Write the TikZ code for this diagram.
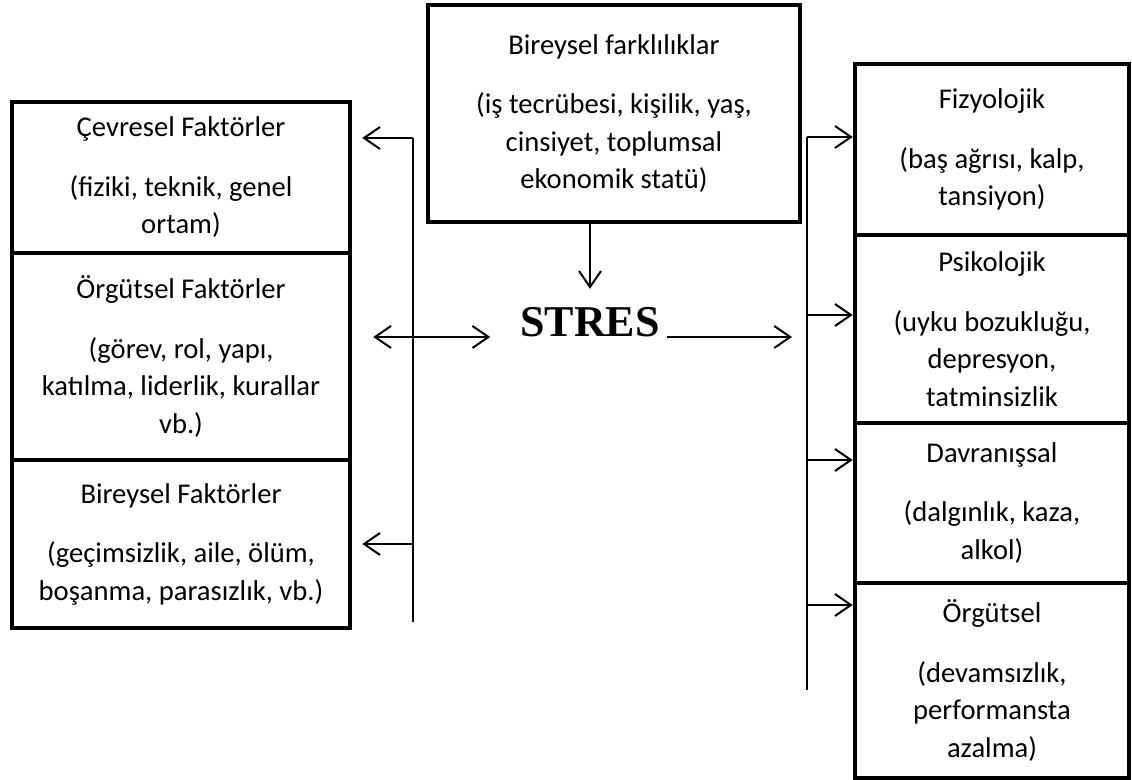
\documentclass[tikz,border=0pt]{standalone}
\usepackage{fontspec}
\setmainfont{Carlito}
\newfontfamily\stresfont{Liberation Serif}
\usetikzlibrary{arrows.meta, positioning}

\begin{document}
\begin{tikzpicture}[x=0.5pt, y=-0.5pt,
    kutu/.style={rectangle, draw=black, line width=2.25pt, align=flush center,
                 font=\fontsize{14.3}{18.75}\selectfont, inner sep=0pt},
    sol/.style={kutu, minimum width=169pt, text width=165pt},
    sag/.style={kutu, minimum width=137pt, text width=133pt},
    ok/.style={-{Straight Barb[length=8pt, width=11pt]}, line width=1pt},
    cift/.style={{Straight Barb[length=8pt, width=11pt]}-{Straight Barb[length=8pt, width=11pt]},
                 line width=1pt},
    cizgi/.style={line width=0.75pt},
  ]
  \useasboundingbox (0,0) rectangle (1132,780);

  % sol kutular
  \node[sol, minimum height=75.5pt] (cev) at (181,177.5)
    {Çevresel Faktörler\\[11pt](fiziki, teknik, genel\\ortam)};
  \node[sol, minimum height=103.5pt] (orgf) at (181,356.5)
    {Örgütsel Faktörler\\[11pt](görev, rol, yapı,\\katılma, liderlik, kurallar\\vb.)};
  \node[sol, minimum height=84pt] (bir) at (181,544)
    {Bireysel Faktörler\\[11pt](geçimsizlik, aile, ölüm,\\boşanma, parasızlık, vb.)};

  % ust kutu ve stres
  \node[kutu, minimum width=186pt, text width=180pt, minimum height=108.5pt] (fark) at (614,113.5)
    {Bireysel farklılıklar\\[11pt](iş tecrübesi, kişilik, yaş,\\cinsiyet, toplumsal\\ekonomik statü)};
  \node[font=\stresfont\bfseries\fontsize{22}{26}\selectfont, anchor=base] (stres) at (590,337) {STRES};

  % sag kutular
  \node[sag, minimum height=85.5pt] (fiz) at (992,149.5)
    {Fizyolojik\\[11pt](baş ağrısı, kalp,\\tansiyon)};
  \node[sag, minimum height=94pt] (psi) at (992,329)
    {Psikolojik\\[11pt](uyku bozukluğu,\\depresyon,\\tatminsizlik};
  \node[sag, minimum height=80pt] (dav) at (992,503)
    {Davranışsal\\[11pt](dalgınlık, kaza,\\alkol)};
  \node[sag, minimum height=97.5pt] (org) at (992,680.5)
    {Örgütsel\\[11pt](devamsızlık,\\performansta\\azalma)};

  % dikey cizgiler
  \coordinate (solust) at (413,138);
  \coordinate (solalt) at (413,622);
  \coordinate (sagust) at (807,137);
  \coordinate (sagalt) at (807,690);
  \draw[cizgi] (solalt) -- (solust);
  \draw[cizgi] (sagalt) -- (sagust);

  % oklar
  \draw[ok, shorten >=6pt] (fark.south -| stres) -- (stres.north);
  \draw[ok, shorten >=7.5pt] (stres.base east) -- (sagust |- stres.base);
  \draw[cift, shorten <=10.5pt, shorten >=11.5pt] (orgf.east |- stres.base) -- (stres.base west);
  \draw[ok, shorten >=5pt] (solust) -- (cev.east |- solust);
  \draw[ok, shorten >=5pt] (solust |- bir.east) -- (bir.east);
  \foreach \n/\y in {fiz/137, psi/315, dav/460, org/605} {
    \coordinate (\n-c) at (807,\y);
    \draw[ok] (\n-c) -- (\n.west |- \n-c);
  }
\end{tikzpicture}
\end{document}
